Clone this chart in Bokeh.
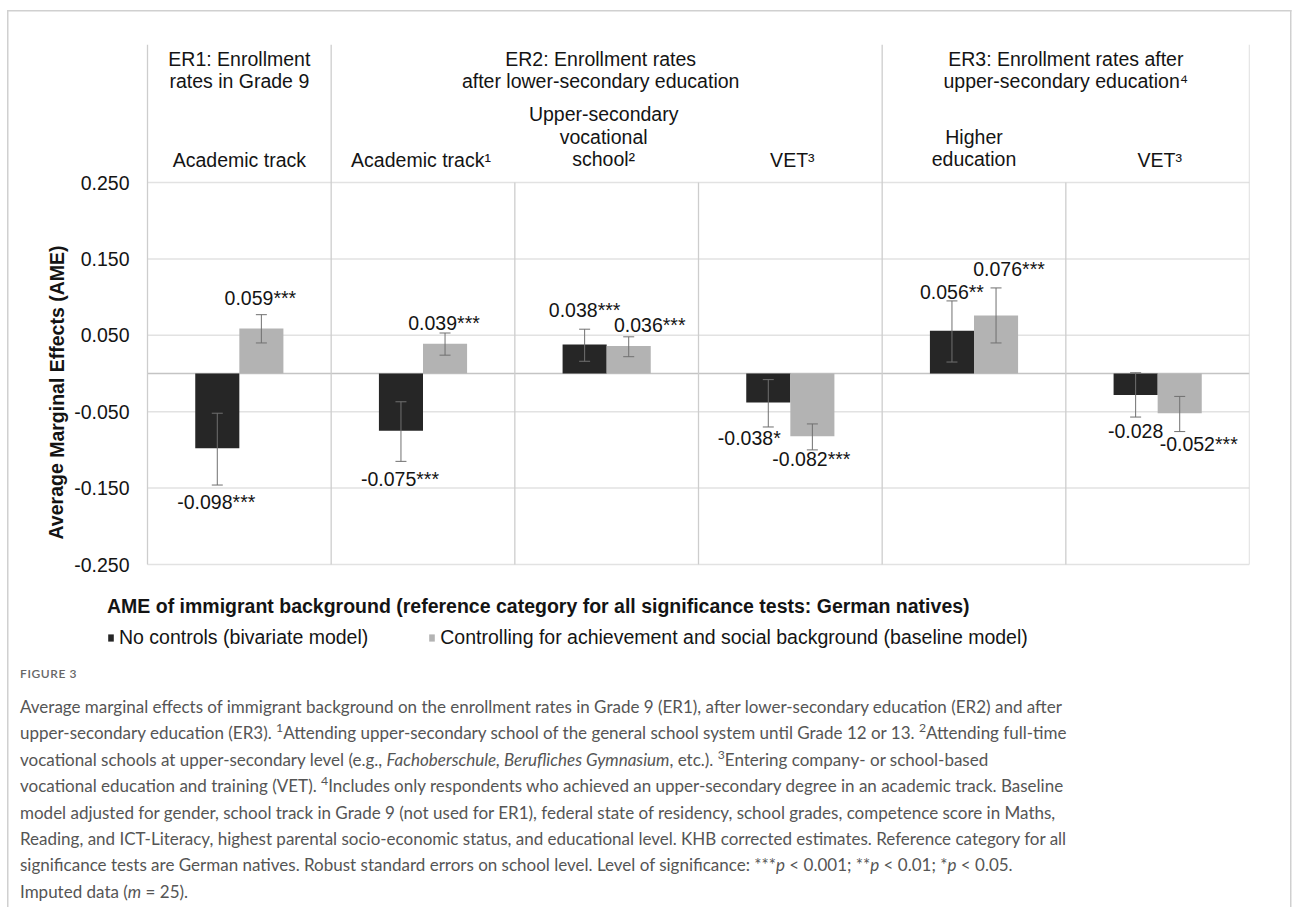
from bokeh.plotting import figure
from bokeh.models import (ColumnDataSource, Range1d, FixedTicker, NumeralTickFormatter,
                          Whisker, TeeHead, Label, Legend, LegendItem, Div)
from bokeh.layouts import column
from bokeh.core.properties import value
from bokeh.embed import file_html
from bokeh.resources import INLINE

# ---- data -----------------------------------------------------------------
group_titles = ["ER1: Enrollment\nrates in Grade 9",
                "ER2: Enrollment rates\nafter lower-secondary education",
                "ER3: Enrollment rates after\nupper-secondary education\u2074"]
group_sizes = [1, 3, 2]
outcomes = ["Academic track", "Academic track\u00b9",
            "Upper-secondary\nvocational\nschool\u00b2", "VET\u00b3",
            "Higher\neducation", "VET\u00b3"]

# AME, no controls (bivariate model)
bivariate = [-0.098, -0.075, 0.038, -0.038, 0.056, -0.028]
bivariate_lo = [-0.146, -0.115, 0.016, -0.070, 0.015, -0.057]
bivariate_hi = [-0.052, -0.037, 0.058, -0.008, 0.095, 0.001]
bivariate_sig = ["***", "***", "***", "*", "**", ""]

# AME, controlling for achievement and social background (baseline model)
baseline = [0.059, 0.039, 0.036, -0.082, 0.076, -0.052]
baseline_lo = [0.040, 0.024, 0.022, -0.100, 0.040, -0.076]
baseline_hi = [0.077, 0.053, 0.048, -0.066, 0.112, -0.030]
baseline_sig = ["***", "***", "***", "***", "***", "***"]

y_ticks = [-0.25, -0.15, -0.05, 0.05, 0.15, 0.25]

series_names = ["No controls (bivariate model)",
                "Controlling for achievement and social background (baseline model)"]
legend_title = ("AME of immigrant background (reference category for all "
                "significance tests: German natives)")
y_title = "Average Marginal Effects (AME)"

# ---- style ----------------------------------------------------------------
FONT = value("Liberation Sans")
FS = "19.5px"
DARK = "#262626"
LIGHT = "#b3b3b3"
TXT = "#141414"
GRID = "#e2e2e2"
SEP = "#cdcdcd"
BAR_W = 0.24
# label placement: horizontal nudge (px) and gap beyond the whisker end (px)
biv_dx = [-1, -1, 0, -19, 0, 0]
biv_gap = [17, 18, 19, 11, 9, 14]
base_dx = [-1, -1, 21, -1, 13, 19]
base_gap = [17, 10, 12, 9, 19, 12]
group_dx = [0, -6, 0]
outcome_dx = [0, -2, -3, 2, 0, 2]

n = len(outcomes)
PX_X = 1102.0 / n          # pixels per column
PX_Y = 764.0               # pixels per unit AME
x_start = -(147 - 40) / PX_X
y_top = 0.25 + 138 / PX_Y
y_bottom = -0.25 - 91 / PX_Y

p = figure(width=1293, height=655, x_range=Range1d(x_start, n),
           y_range=Range1d(y_bottom, y_top), output_backend="svg",
           toolbar_location=None, min_border_left=40, min_border_right=44,
           min_border_top=44, min_border_bottom=0)
p.outline_line_color = None
p.border_fill_alpha = 0
p.background_fill_alpha = 0

p.xaxis.visible = False
p.xgrid.visible = False
p.ygrid.visible = False

ax = p.yaxis[0]
ax.ticker = FixedTicker(ticks=y_ticks)
ax.formatter = NumeralTickFormatter(format="0.000")
ax.axis_line_color = None
ax.major_tick_line_color = None
ax.minor_tick_line_color = None
ax.major_tick_in = 0
ax.major_tick_out = 0
ax.major_label_standoff = -89
ax.major_label_text_font = "Liberation Sans"
ax.major_label_text_font_size = FS
ax.major_label_text_color = TXT

# horizontal grid lines at the tick values, limited to the chart columns
p.segment(x0=0, x1=n, y0=y_ticks, y1=y_ticks, line_color=GRID, line_width=1.5,
          level="underlay")
# zero line
p.segment(x0=[0], x1=[n], y0=[0], y1=[0], line_color="#c4c4c4", line_width=1.5,
          level="underlay")

# column separators: group borders run up through the header area
bounds = [0]
for s in group_sizes:
    bounds.append(bounds[-1] + s)
sep_x = list(range(n + 1))
sep_top = [y_top if i in bounds else y_ticks[-1] for i in sep_x]
p.segment(x0=sep_x, x1=sep_x, y0=[y_ticks[0]] * len(sep_x), y1=sep_top,
          line_color=SEP, line_width=1.3, level="underlay")

# bars
centers = [i + 0.5 for i in range(n)]
x_biv = [c - BAR_W / 2 for c in centers]
x_base = [c + BAR_W / 2 for c in centers]

src_biv = ColumnDataSource(dict(x=x_biv, top=bivariate, lo=bivariate_lo, hi=bivariate_hi))
src_base = ColumnDataSource(dict(x=x_base, top=baseline, lo=baseline_lo, hi=baseline_hi))
r_biv = p.vbar(x="x", top="top", bottom=0, width=BAR_W, source=src_biv,
               fill_color=DARK, line_color=None)
r_base = p.vbar(x="x", top="top", bottom=0, width=BAR_W, source=src_base,
                fill_color=LIGHT, line_color=None)

for src in (src_biv, src_base):
    p.add_layout(Whisker(base="x", lower="lo", upper="hi", source=src,
                         line_color="#707070", line_width=1, level="overlay",
                         upper_head=TeeHead(size=11, line_color="#707070", line_width=1),
                         lower_head=TeeHead(size=11, line_color="#707070", line_width=1)))

# value labels beyond the whisker ends
def label_source(xs, vals, lo, hi, sig, dx, gap):
    ys, offs, texts = [], [], []
    for v, l, h, s, g in zip(vals, lo, hi, sig, gap):
        if v >= 0:
            ys.append(h)
            offs.append(-g)
        else:
            ys.append(l)
            offs.append(g)
        texts.append(f"{v:.3f}{s}")
    return ColumnDataSource(dict(x=xs, y=ys, dx=dx, dy=offs, text=texts))

for src in (label_source(x_biv, bivariate, bivariate_lo, bivariate_hi, bivariate_sig, biv_dx, biv_gap),
            label_source(x_base, baseline, baseline_lo, baseline_hi, baseline_sig, base_dx, base_gap)):
    p.text(x="x", y="y", text="text", x_offset="dx", y_offset="dy", source=src,
           text_align="center", text_baseline="middle", text_font=FONT,
           text_font_size=FS, text_color=TXT)

# group headers and outcome names
group_centers = [(bounds[i] + bounds[i + 1]) / 2 for i in range(len(group_sizes))]
p.text(x=group_centers, y=[y_top] * len(group_centers), text=group_titles,
       x_offset=group_dx, y_offset=3, text_align="center", text_baseline="top",
       text_font=FONT, text_font_size=FS, text_color=TXT,
       text_line_height=1.04)
p.text(x=centers, y=[y_ticks[-1]] * n, text=outcomes, x_offset=outcome_dx,
       y_offset=-12, text_align="center", text_baseline="bottom",
       text_font=FONT, text_font_size=FS, text_color=TXT,
       text_line_height=1.04)

# y axis title
p.add_layout(Label(x=-91 / PX_X, y=-19 / PX_Y, text=y_title,
                   angle=1.5707963, text_align="center", text_baseline="middle",
                   text_font="Liberation Sans", text_font_style="bold",
                   text_font_size=FS, text_color=TXT))

# legend below the chart
legend = Legend(items=[LegendItem(label=series_names[0], renderers=[r_biv]),
                       LegendItem(label=series_names[1], renderers=[r_base])],
                title=legend_title, orientation="horizontal", location=(67, 6),
                padding=0, margin=0, spacing=60, glyph_width=7, glyph_height=9,
                label_standoff=5, title_standoff=8, border_line_color=None,
                background_fill_alpha=0,
                title_text_font="Liberation Sans", title_text_font_style="bold",
                title_text_font_size=FS, title_text_color=TXT,
                label_text_font="Liberation Sans", label_text_font_size=FS,
                label_text_color=TXT)
p.add_layout(legend, "center")

caption_lines = [
    "Average marginal effects of immigrant background on the enrollment rates in Grade 9 (ER1), after lower-secondary education (ER2) and after",
    "upper-secondary education (ER3). <sup>1</sup>Attending upper-secondary school of the general school system until Grade 12 or 13. <sup>2</sup>Attending full-time",
    "vocational schools at upper-secondary level (e.g., <i>Fachoberschule, Berufliches Gymnasium</i>, etc.). <sup>3</sup>Entering company- or school-based",
    "vocational education and training (VET). <sup>4</sup>Includes only respondents who achieved an upper-secondary degree in an academic track. Baseline",
    "model adjusted for gender, school track in Grade 9 (not used for ER1), federal state of residency, school grades, competence score in Maths,",
    "Reading, and ICT-Literacy, highest parental socio-economic status, and educational level. KHB corrected estimates. Reference category for all",
    "significance tests are German natives. Robust standard errors on school level. Level of significance: ***<i>p</i> &lt; 0.001; **<i>p</i> &lt; 0.01; *<i>p</i> &lt; 0.05.",
    "Imputed data (<i>m</i> = 25).",
]
caption_lines = [ln.replace("<sup>", '<sup style="line-height:0;font-size:72%;">')
                 for ln in caption_lines]
caption_html = (
    '<div style="width:1270px;padding-left:20px;font-family:Lato;color:#555;">'
    '<div style="padding-top:11px;font-size:12px;letter-spacing:0.6px;color:#666;'
    'font-weight:600;line-height:16px;">FIGURE 3</div>'
    '<div style="margin-top:12px;font-size:17px;line-height:26.4px;white-space:nowrap;">'
    + "<br>".join(caption_lines) +
    '</div></div>'
)
caption = Div(text=caption_html, width=1293, height=252, margin=0)

# light frame around the whole figure (top and sides)
frame_css = ("linear-gradient(#d0d0d0,#d0d0d0) 7px 10px / 1.5px 897px no-repeat, "
             "linear-gradient(#d0d0d0,#d0d0d0) 1290px 10px / 1.5px 897px no-repeat, "
             "linear-gradient(#d0d0d0,#d0d0d0) 7px 10px / 1284.5px 1.5px no-repeat, white")

layout = column(p, caption, spacing=0, styles={"background": frame_css})
open("out.html", "w").write(file_html(layout, INLINE))
